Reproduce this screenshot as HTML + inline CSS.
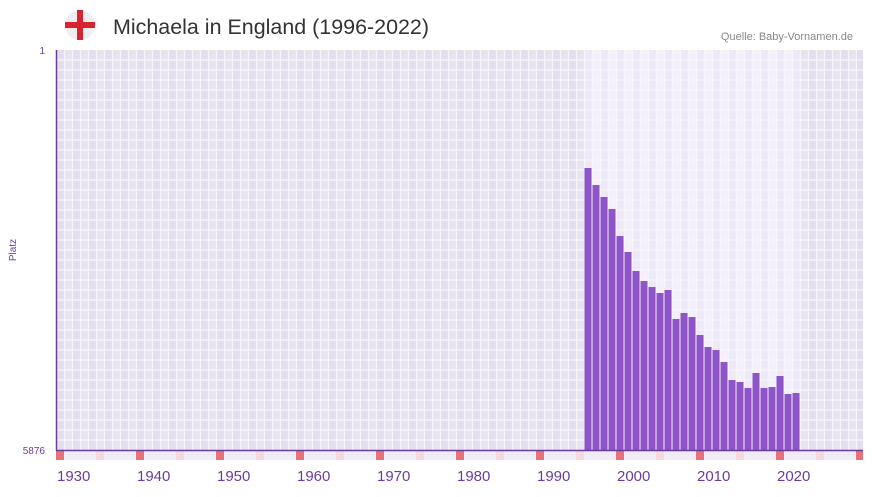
<!DOCTYPE html>
<html><head><meta charset="utf-8"><style>
body{margin:0;background:#fff;width:873px;height:492px;overflow:hidden;font-family:"Liberation Sans",sans-serif}
</style></head><body>
<svg id="chart" width="873" height="492" xmlns="http://www.w3.org/2000/svg">
<g>
<circle cx="80" cy="25" r="15" fill="#eeeeee"/>
<rect x="77" y="10" width="6" height="30" fill="#d9232e"/>
<rect x="65" y="22" width="30" height="6" fill="#d9232e"/>
</g>
<text x="113" y="34" font-size="21" fill="#333" textLength="316" lengthAdjust="spacingAndGlyphs">Michaela in England (1996-2022)</text>
<text x="853" y="40" font-size="11" fill="#888" text-anchor="end">Quelle: Baby-Vornamen.de</text>
<text x="16" y="250" font-size="10" fill="#6a3d9a" transform="rotate(-90 16 250)" text-anchor="middle">Platz</text>
<text x="45" y="54" font-size="10" fill="#6a3d9a" text-anchor="end">1</text>
<text x="45" y="454" font-size="10" fill="#6a3d9a" text-anchor="end">5876</text>
<g id="grid"></g><g id="bars"></g><g id="marks"></g><g id="xlabels"></g>
<line x1="56.5" y1="50" x2="56.5" y2="451" stroke="#6a3d9a" stroke-width="1.5"/>
<line x1="56" y1="450.5" x2="863" y2="450.5" stroke="#6a3d9a" stroke-width="1.5"/>
</svg>
<script>
const years = [1996,1997,1998,1999,2000,2001,2002,2003,2004,2005,2006,2007,2008,2009,2010,2011,2012,2013,2014,2015,2016,2017,2018,2019,2020,2021,2022];
const ranks = [1734,1984,2160,2336,2733,2968,3247,3394,3482,3570,3526,3952,3864,3923,4187,4363,4407,4584,4848,4877,4965,4745,4965,4951,4789,5054,5039];
const yTicks = [1,5876];
const xTickYears = [1930,1940,1950,1960,1970,1980,1990,2000,2010,2020];
const NS="http://www.w3.org/2000/svg";
const startYear=1930, endYear=2030, x0=56, colW=8, yTop=50, yBot=450;
const xScale = y => x0 + (y-startYear)*colW;
const yScale = r => yTop + (r-yTicks[0])/(yTicks[1]-yTicks[0])*(yBot-yTop);
function mk(tag,attrs,parent){const e=document.createElementNS(NS,tag);for(const k in attrs)e.setAttribute(k,attrs[k]);parent.appendChild(e);return e;}
const grid=document.getElementById('grid');
const minY=years[0], maxY=years[years.length-1];
for(let yr=startYear; yr<endYear+1; yr++){
  const x=xScale(yr); const w=Math.min(colW,863-x); if(w<=0)break;
  const hl = yr>=minY && yr<=maxY;
  const fill = hl ? (yr%2?'#f3f0fb':'#eee8f8') : (yr%2?'#e8e4ef':'#e3dded');
  const c=mk('rect',{x:x,y:yTop,width:w,height:yBot-yTop,fill:fill},grid);
  
  
  const m=mk('rect',{x:x,y:451,width:w,height:9,fill: yr%10===0?'#e8727a':(yr%5===0?'#f5d9e0':(hl?'#f1ecfa':'#f0ecf7'))},document.getElementById('marks'));
  
  
}
for(let yr=startYear; yr<=endYear; yr++){
  const l=mk('line',{x1:xScale(yr)+0.5,y1:yTop,x2:xScale(yr)+0.5,y2:yBot,stroke:'#f7f5fa','stroke-width':1.2},grid);
  
  
}
for(let y=yTop+10; y<yBot; y+=10){
  const l=mk('line',{x1:x0,y1:y,x2:863,y2:y,stroke:'#f7f5fa','stroke-width':1.2},grid);
  
  
}
const bars=document.getElementById('bars');
years.forEach((yr,i)=>{
  const x=xScale(yr)+0.5, top=yScale(ranks[i]);
  const b=mk('rect',{x:x,y:top,width:colW-1,height:yBot-top,fill:'#8e54c8'},bars);
  
  
});
const xl=document.getElementById('xlabels');
xTickYears.forEach(yr=>{
  const t=mk('text',{x:xScale(yr)+1,y:481,'font-size':15,fill:'#6a3d9a'},xl);
  t.textContent=yr;
  
  
});
</script>
</body></html>
